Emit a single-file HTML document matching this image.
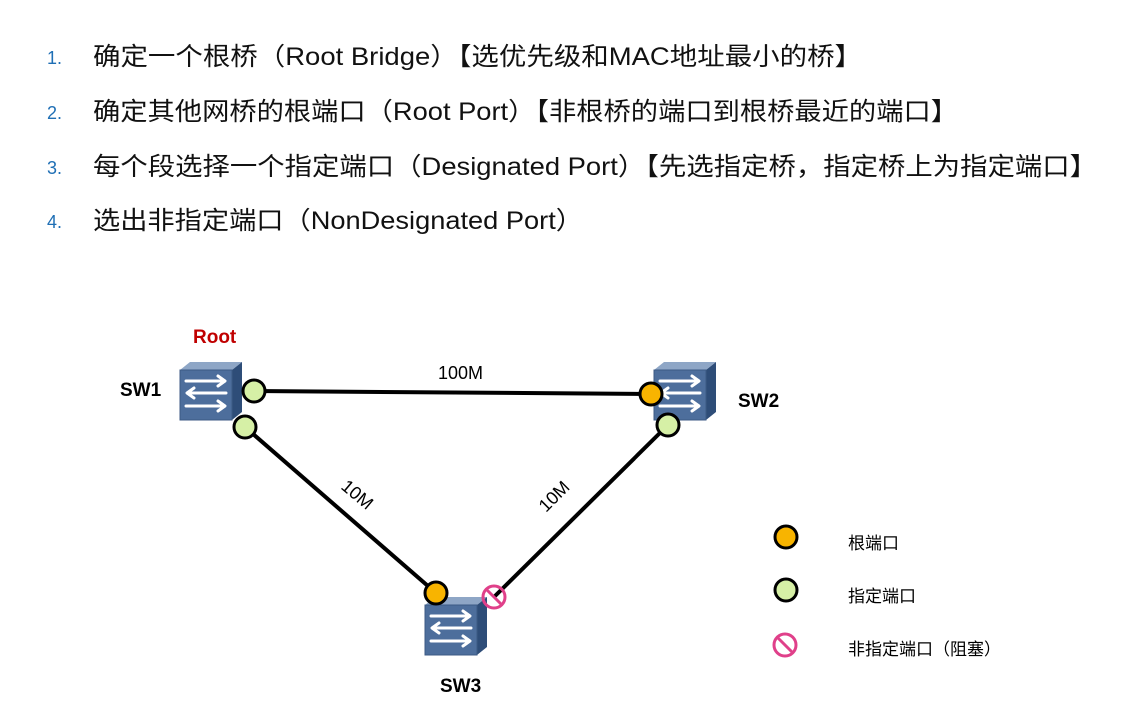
<!DOCTYPE html>
<html><head><meta charset="utf-8"><style>
html,body{margin:0;padding:0;background:#fff;}
svg{display:block;}
text{font-family:"Liberation Sans","Noto Sans CJK SC",sans-serif;}
</style></head><body>
<svg width="1139" height="710" viewBox="0 0 1139 710" xmlns="http://www.w3.org/2000/svg">
<defs>
<g id="sw">
  <polygon points="0,8 52,8 62,0 10,0" fill="#8ea6c6"/>
  <polygon points="52,8 62,0 62,50 52,58" fill="#2e4d78"/>
  <rect x="0" y="8" width="52" height="50" fill="#4d6e9c" stroke="#3c5a85" stroke-width="1"/>
  <g stroke="#fff" stroke-width="3" fill="none" stroke-linecap="round" stroke-linejoin="round">
    <path d="M6,19 H44 M38,14 L45,19 L38,24"/>
    <path d="M46,31 H8 M14,26 L7,31 L14,36"/>
    <path d="M6,44 H44 M38,39 L45,44 L38,49"/>
  </g>
</g>
</defs>
<g font-size="25" fill="#111">
  <text x="47" y="64" font-size="18" fill="#1f6fb5">1.</text>
  <text x="93" y="65" textLength="769" lengthAdjust="spacingAndGlyphs">确定一个根桥（Root Bridge）【选优先级和MAC地址最小的桥】</text>
  <text x="47" y="119" font-size="18" fill="#1f6fb5">2.</text>
  <text x="93" y="120" textLength="865" lengthAdjust="spacingAndGlyphs">确定其他网桥的根端口（Root Port）【非根桥的端口到根桥最近的端口】</text>
  <text x="47" y="174" font-size="18" fill="#1f6fb5">3.</text>
  <text x="93" y="175" textLength="1004" lengthAdjust="spacingAndGlyphs">每个段选择一个指定端口（Designated Port）【先选指定桥，指定桥上为指定端口】</text>
  <text x="47" y="228" font-size="18" fill="#1f6fb5">4.</text>
  <text x="93" y="229" textLength="490" lengthAdjust="spacingAndGlyphs">选出非指定端口（NonDesignated Port）</text>
</g>
<g stroke="#000" stroke-width="4">
  <line x1="254" y1="391" x2="651" y2="394"/>
  <line x1="245" y1="427" x2="436" y2="593"/>
  <line x1="668" y1="425" x2="494" y2="597"/>
</g>
<use href="#sw" x="180" y="362"/>
<use href="#sw" x="654" y="362"/>
<use href="#sw" x="425" y="597"/>
<g stroke="#000" stroke-width="3">
  <circle cx="254" cy="391" r="11" fill="#d6f0a6"/>
  <circle cx="245" cy="427" r="11" fill="#d6f0a6"/>
  <circle cx="651" cy="394" r="11" fill="#f8b400"/>
  <circle cx="668" cy="425" r="11" fill="#d6f0a6"/>
  <circle cx="436" cy="593" r="11" fill="#f8b400"/>
  <circle cx="786" cy="537" r="11" fill="#f8b400"/>
  <circle cx="786" cy="590" r="11" fill="#d6f0a6"/>
</g>
<g stroke="#e0408a" stroke-width="3" fill="none">
  <circle cx="494" cy="597" r="11"/><line x1="486" y1="589" x2="502" y2="605"/>
  <circle cx="785" cy="645" r="11"/><line x1="777" y1="637" x2="793" y2="653"/>
</g>
<text x="193" y="343" font-size="19" font-weight="bold" fill="#c00000">Root</text>
<text x="120" y="396" font-size="19" font-weight="bold">SW1</text>
<text x="738" y="407" font-size="19" font-weight="bold">SW2</text>
<text x="440" y="692" font-size="19" font-weight="bold">SW3</text>
<text x="438" y="379" font-size="18">100M</text>
<text x="0" y="0" font-size="18" transform="translate(340,488) rotate(40)">10M</text>
<text x="0" y="0" font-size="18" transform="translate(546,513) rotate(-45)">10M</text>
<g font-size="17">
  <text x="848" y="549">根端口</text>
  <text x="848" y="602">指定端口</text>
  <text x="848" y="655">非指定端口（阻塞）</text>
</g>
</svg>
</body></html>
